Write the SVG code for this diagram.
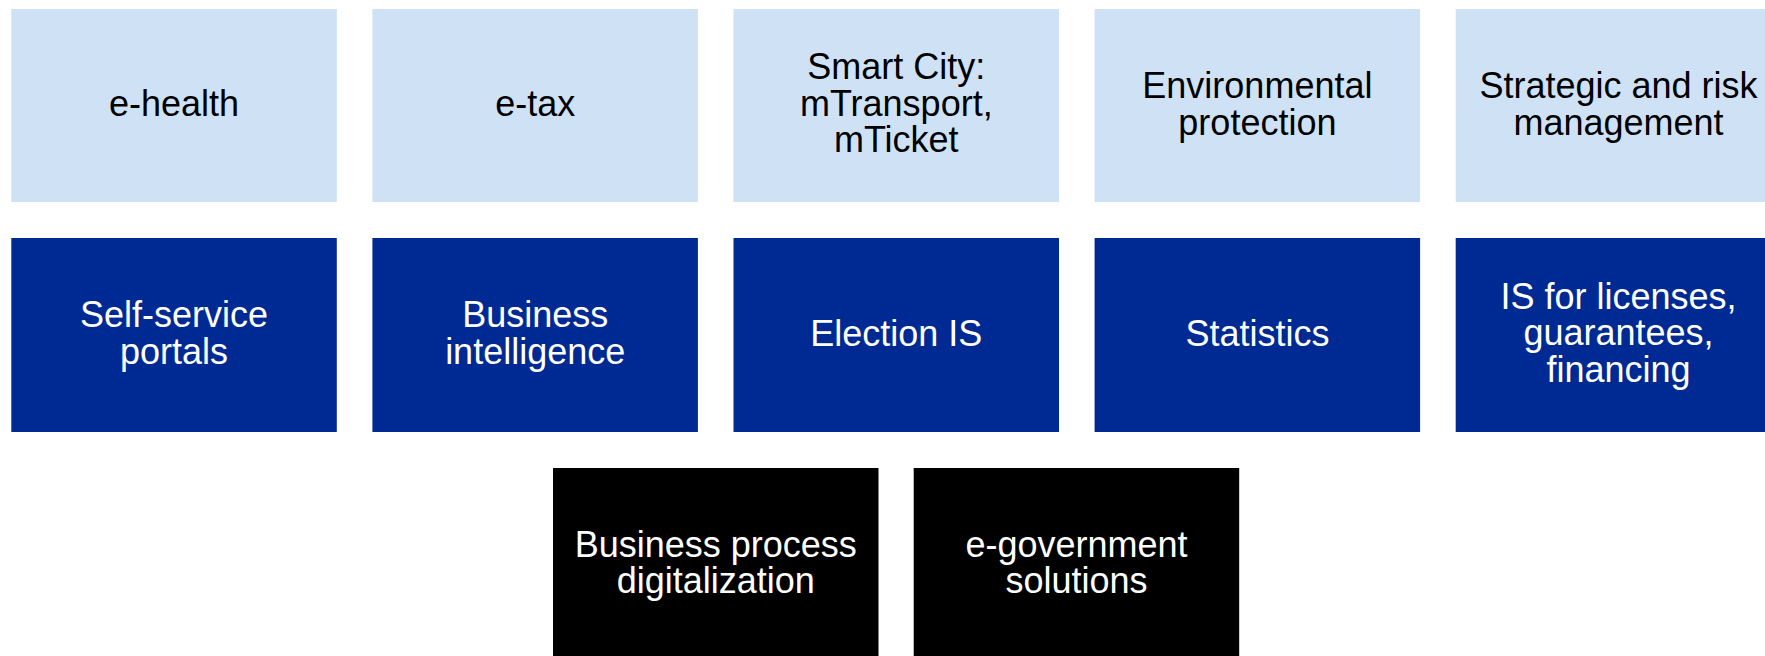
<svg xmlns="http://www.w3.org/2000/svg" width="1765" height="656" viewBox="0 0 1765 656">
<style>
text{font-family:"Liberation Sans",Arial,sans-serif;font-size:36px;text-anchor:middle}
.l rect{fill:#CFE2F5}
.l text{fill:#000}
.d rect{fill:#002A93}
.d text{fill:#fff}
.k rect{fill:#000}
.k text{fill:#fff}
</style>
<rect width="1765" height="656" fill="#fff"/>
<g id="e-health" class="l"><rect x="11.3" y="9" width="325.5" height="193"/><text x="174" y="116">e-health</text></g>
<g id="e-tax" class="l"><rect x="372.4" y="9" width="325.5" height="193"/><text x="535.2" y="116">e-tax</text></g>
<g id="smart-city" class="l"><rect x="733.5" y="9" width="325.5" height="193"/><text x="896.3" y="79">Smart City:</text><text x="896.3" y="115.7">mTransport,</text><text x="896.3" y="152.4">mTicket</text></g>
<g id="environmental" class="l"><rect x="1094.6" y="9" width="325.5" height="193"/><text x="1257.4" y="98">Environmental</text><text x="1257.4" y="134.7">protection</text></g>
<g id="strategic" class="l"><rect x="1455.7" y="9" width="325.5" height="193"/><text x="1618.5" y="98">Strategic and risk</text><text x="1618.5" y="134.7">management</text></g>
<g id="self-service" class="d"><rect x="11.3" y="238" width="325.5" height="194"/><text x="174" y="327">Self-service</text><text x="174" y="363.7">portals</text></g>
<g id="business-intelligence" class="d"><rect x="372.4" y="238" width="325.5" height="194"/><text x="535.2" y="327">Business</text><text x="535.2" y="363.7">intelligence</text></g>
<g id="election" class="d"><rect x="733.5" y="238" width="325.5" height="194"/><text x="896.3" y="346">Election IS</text></g>
<g id="statistics" class="d"><rect x="1094.6" y="238" width="325.5" height="194"/><text x="1257.4" y="346">Statistics</text></g>
<g id="is-licenses" class="d"><rect x="1455.7" y="238" width="325.5" height="194"/><text x="1618.5" y="308.5">IS for licenses,</text><text x="1618.5" y="345.2">guarantees,</text><text x="1618.5" y="381.9">financing</text></g>
<g id="bpd" class="k"><rect x="553" y="468" width="325.5" height="194"/><text x="715.8" y="556.7">Business process</text><text x="715.8" y="593.4">digitalization</text></g>
<g id="egov" class="k"><rect x="913.7" y="468" width="325.5" height="194"/><text x="1076.5" y="556.7">e-government</text><text x="1076.5" y="593.4">solutions</text></g>
<g id="connectors"></g>
</svg>
